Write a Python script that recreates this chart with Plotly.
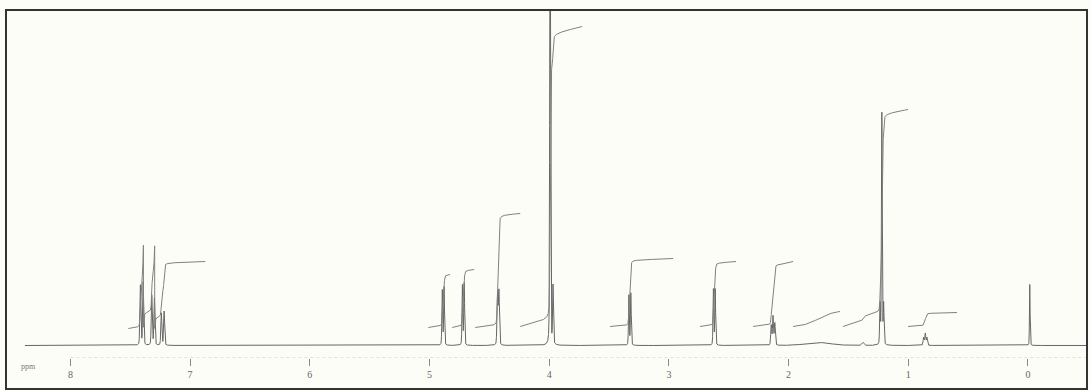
import numpy as np
import plotly.graph_objects as go

# ---- 1H NMR peak list: shift (ppm), height (chart units above baseline), half-width (ppm)
peak_ppm = [7.415, 7.392, 7.320, 7.298, 7.240, 7.217,
            4.893, 4.878, 4.725, 4.710, 4.432, 4.420,
            3.992, 3.968, 3.334, 3.318, 2.628, 2.613,
            2.145, 2.130, 2.115, 1.750, 1.380,
            1.236, 1.221, 1.206, 0.872, 0.858, 0.844, -0.015]
peak_height = [60, 63, 50, 47, 32, 34,
               55, 58, 60, 62, 52, 54,
               520, 58, 50, 52, 56, 56,
               20, 29, 22, 3, 3,
               40, 232, 40, 8, 12, 8, 61]
peak_hwhm = [0.005, 0.005, 0.005, 0.005, 0.005, 0.005,
             0.004, 0.004, 0.004, 0.004, 0.005, 0.005,
             0.004, 0.004, 0.004, 0.004, 0.004, 0.004,
             0.005, 0.005, 0.005, 0.120, 0.010,
             0.004, 0.004, 0.004, 0.005, 0.005, 0.005, 0.003]
LORENTZ_FRACTION = 0.25  # pseudo-Voigt mixing

# ---- integral traces: ppm span, starting level, total rise, linear drift, reset height
int_from = [7.516, 5.010, 4.810, 4.618, 4.242, 3.491, 2.739, 2.296, 1.962, 1.545, 1.002]
int_to = [6.873, 4.827, 4.626, 4.242, 3.724, 2.965, 2.438, 1.962, 1.570, 1.002, 0.593]
int_start = [17, 18, 18, 18, 19, 19, 19, 19, 19, 19, 19]
int_rise = [235, 53, 58, 114, 300, 68, 65, 65, 15, 217, 14]
int_drift = [2, 2, 2, 2, 14, 2, 2, 2, 0, 10, 1]
int_reset = [84, None, None, None, None, None, None, None, None, None, None]

# ---- axis ticks
tick_ppm = [8, 7, 6, 5, 4, 3, 2, 1, 0]
tick_text = ["8", "7", "6", "5", "4", "3", "2", "1", "0"]

SPEC_COLOR = "#666666"
INT_COLOR = "#808080"
BG = "#fdfdf8"


def spectrum(x):
    y = np.zeros_like(x)
    eta = LORENTZ_FRACTION
    for c, h, g in zip(peak_ppm, peak_height, peak_hwhm):
        u = (x - c) / g
        y += h * (eta / (1.0 + u ** 2) + (1 - eta) * np.exp(-np.log(2) * u ** 2))
    return y


ppm = np.arange(8.38, -0.49, -0.0005)
signal = spectrum(ppm)

fig = go.Figure()
fig.add_trace(go.Scatter(x=ppm, y=signal, mode="lines",
                         line=dict(color=SPEC_COLOR, width=1),
                         hoverinfo="skip", showlegend=False))

# integral curves: running area under the spectrum over each span
for a, b, s, r, d, w in zip(int_from, int_to, int_start, int_rise, int_drift, int_reset):
    xs = np.arange(a, b, -0.0005)
    ys = spectrum(xs)
    cum = np.cumsum(ys)
    cum = (cum - cum[0]) / (cum[-1] - cum[0])
    frac = np.linspace(0, 1, xs.size)
    lvl = d * frac + (r - d) * cum
    if w is not None:
        lvl = np.mod(lvl, w)
    fig.add_trace(go.Scatter(x=xs, y=s + lvl, mode="lines",
                             line=dict(color=INT_COLOR, width=1),
                             hoverinfo="skip", showlegend=False))

fig.update_layout(
    width=1090, height=391,
    margin=dict(l=6, r=3, t=10, b=2, pad=0),
    paper_bgcolor=BG, plot_bgcolor=BG,
    xaxis=dict(range=[8.538, -0.493], tickvals=tick_ppm, ticktext=tick_text,
               ticks="outside", ticklen=7, tickwidth=1, tickcolor="#8a8a8a",
               tickfont=dict(family="Liberation Serif", size=10, color="#666666"),
               showgrid=False, zeroline=False, showline=False, anchor="y"),
    yaxis=dict(domain=[0.0818, 1], range=[-12.5, 335.5], visible=False),
    shapes=[
        dict(type="line", xref="x", yref="y", x0=8.0, x1=-0.49, y0=-12.5, y1=-12.5,
             line=dict(color="#c4c4c4", width=1, dash="dot")),
        dict(type="rect", xref="paper", yref="paper", x0=0, x1=1, y0=0, y1=1,
             line=dict(color="#333333", width=2), layer="above"),
    ],
    annotations=[
        dict(xref="paper", yref="paper", x=0.012, y=0.042, text="ppm",
             showarrow=False, font=dict(family="Liberation Serif", size=8, color="#777777")),
    ],
)

fig.write_html("out.html")
